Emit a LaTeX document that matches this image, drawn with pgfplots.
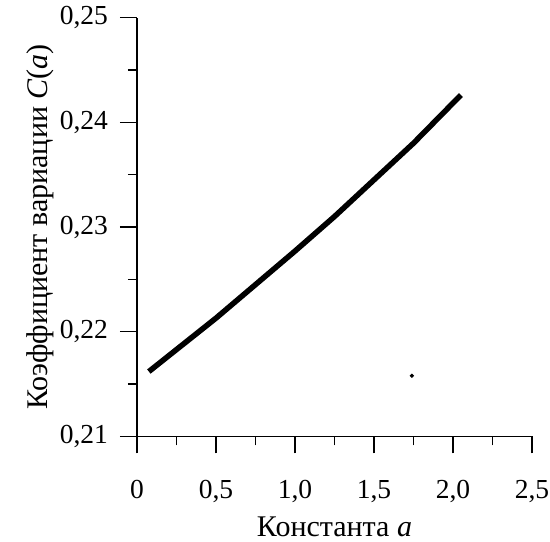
\documentclass[border=0pt]{standalone}
\usepackage{fontspec}
\setmainfont{Liberation Serif}
\usepackage{pgfplots}
\pgfplotsset{compat=1.18}

\begin{document}
\begin{tikzpicture}
\begin{axis}[
  scale only axis,
  width=158pt,height=167.6pt,
  axis lines*=left,
  xmin=0,xmax=2.5,ymin=0.21,ymax=0.25,
  xtick={0,0.5,1,1.5,2,2.5},
  xticklabels={0,{0,5},{1,0},{1,5},{2,0},{2,5}},
  ytick={0.21,0.22,0.23,0.24,0.25},
  yticklabels={{0,21},{0,22},{0,23},{0,24},{0,25}},
  minor tick num=1,
  tick align=outside,
  major tick length=6.8pt,
  minor tick length=3.6pt,
  every tick/.style={black,line width=0.5pt},
  axis line style={black,line width=0.5pt},
  tick label style={font=\fontsize{11}{13}\selectfont},
  xticklabel style={yshift=-7.2pt},
  yticklabel style={xshift=-1.3pt},
  label style={font=\fontsize{12}{14}\selectfont},
  xlabel={Константа \textit{a}},
  ylabel={Коэффициент вариации \textit{C}(\textit{a})},
  xlabel style={yshift=1.4pt},
  ylabel style={yshift=-4.4pt},
  clip=false,
]
\coordinate (ll) at (rel axis cs:0,0);
\coordinate (ur) at (rel axis cs:1,1);
% C(a) curve
\addplot[black,line width=2.2pt] coordinates {
(0.075,0.2162) (0.30,0.2189) (0.50,0.2213) (0.75,0.2245)
(1.00,0.2277) (1.25,0.2310) (1.50,0.2345) (1.75,0.2380) (2.05,0.2426)
};
% stray dot
\addplot[only marks,mark=*,mark size=0.6pt,black] coordinates {(1.74,0.2158)};
\end{axis}
\pgfresetboundingbox
\path ([xshift=-54.8pt,yshift=-42.2pt]ll) rectangle ([xshift=7.2pt,yshift=7pt]ur);
\end{tikzpicture}
\end{document}
